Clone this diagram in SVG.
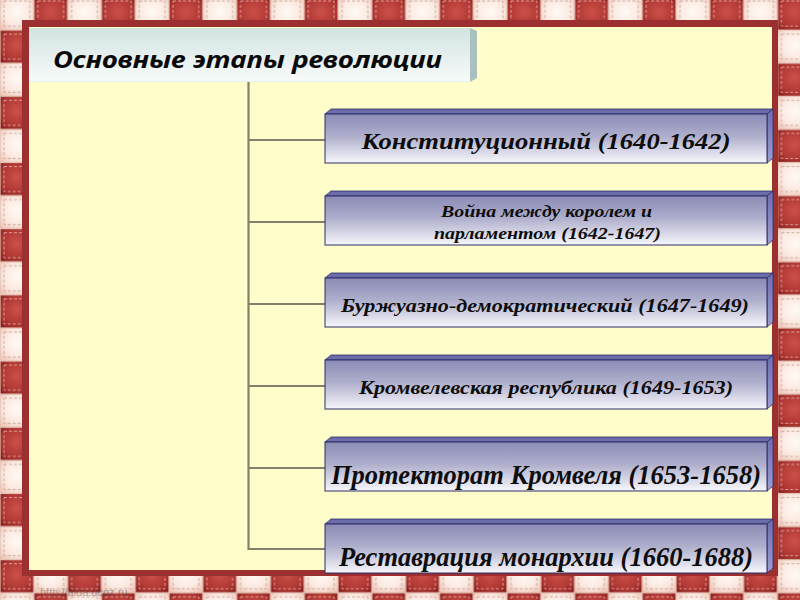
<svg xmlns="http://www.w3.org/2000/svg" width="800" height="600" viewBox="0 0 800 600">
  <defs>
    <radialGradient id="gRed" cx="0.5" cy="0.45" r="0.7">
      <stop offset="0" stop-color="#cc5049"/>
      <stop offset="0.6" stop-color="#b23a35"/>
      <stop offset="1" stop-color="#8a1f1e"/>
    </radialGradient>
    <radialGradient id="gCream" cx="0.5" cy="0.45" r="0.7">
      <stop offset="0" stop-color="#fffaf5"/>
      <stop offset="0.6" stop-color="#fbe9e0"/>
      <stop offset="1" stop-color="#eec4b5"/>
    </radialGradient>
    <pattern id="chk" patternUnits="userSpaceOnUse" x="0" y="-3" width="67.6" height="66.2">
      <rect x="0" y="0" width="67.6" height="66.2" fill="#e2bfb2"/>
      <rect x="0.6" y="0.6" width="32.6" height="31.9" fill="url(#gCream)"/>
      <rect x="34.4" y="0.6" width="32.6" height="31.9" fill="url(#gRed)"/>
      <rect x="0.6" y="33.7" width="32.6" height="31.9" fill="url(#gRed)"/>
      <rect x="34.4" y="33.7" width="32.6" height="31.9" fill="url(#gCream)"/>
      <rect x="4" y="4" width="25.8" height="25.1" class="stC"/>
      <rect x="37.8" y="4" width="25.8" height="25.1" class="stR"/>
      <rect x="4" y="37.1" width="25.8" height="25.1" class="stR"/>
      <rect x="37.8" y="37.1" width="25.8" height="25.1" class="stC"/>
    </pattern>
    <linearGradient id="gFront" x1="0" y1="0" x2="0" y2="1">
      <stop offset="0" stop-color="#8b8bb7"/>
      <stop offset="0.45" stop-color="#aeaecc"/>
      <stop offset="1" stop-color="#f7f7fc"/>
    </linearGradient>
    <linearGradient id="gSide" x1="0" y1="0" x2="0" y2="1">
      <stop offset="0" stop-color="#6d6db0"/>
      <stop offset="1" stop-color="#9d9dd2"/>
    </linearGradient>
    <linearGradient id="gTitle" x1="0" y1="0" x2="0" y2="1">
      <stop offset="0" stop-color="#d2e4e2"/>
      <stop offset="1" stop-color="#f8fbfa"/>
    </linearGradient>
  </defs>
  <style>
    .stR { fill: none; stroke: #eaa9a3; stroke-width: 0.9; stroke-dasharray: 3 2; }
    .stC { fill: none; stroke: #c9a59c; stroke-width: 0.9; stroke-dasharray: 3 2; }
    .front { fill: url(#gFront); stroke: #2c2c68; stroke-width: 1; }
    .top { fill: #6c6caa; stroke: #2c2c68; stroke-width: 0.8; }
    .side { fill: url(#gSide); stroke: #2c2c68; stroke-width: 0.8; }
    .lbl { font-family: "Liberation Serif", "Times New Roman", serif; font-weight: bold; font-style: italic; fill: #0d0d0d; text-anchor: middle; }
    .conn { stroke: #82806c; stroke-width: 2.2; fill: none; }
    .title { font-family: "Noto Sans", "DejaVu Sans", sans-serif; font-weight: bold; font-style: italic; fill: #0a0a0a; }
  </style>

  <g id="background">
    <rect x="0" y="0" width="800" height="600" fill="url(#chk)"/>
    <rect x="22" y="20" width="756" height="556" fill="#9c3030"/>
    <rect x="29" y="27" width="743" height="543" fill="#fffdca"/>
    <text x="40" y="596" font-family="Liberation Sans, Arial, sans-serif" font-size="11" fill="#4a4a4a" opacity="0.45">http://aida.ucoz.ru</text>
  </g>

  <g id="title">
    <rect x="29" y="28" width="441" height="54" fill="url(#gTitle)"/>
    <polygon points="470,28 477,31 477,78 470,82" fill="#a9c0bf"/>
    <line x1="29" y1="81.5" x2="470" y2="81.5" stroke="#e8f0ef" stroke-width="1"/>
    <text class="title" x="53" y="68" font-size="24" textLength="389" lengthAdjust="spacingAndGlyphs">Основные этапы революции</text>
  </g>

  <g id="connectors">
    <line class="conn" x1="248.5" y1="82" x2="248.5" y2="550"/>
    <line class="conn" x1="248" y1="140" x2="325" y2="140"/>
    <line class="conn" x1="248" y1="222" x2="325" y2="222"/>
    <line class="conn" x1="248" y1="304" x2="325" y2="304"/>
    <line class="conn" x1="248" y1="386" x2="325" y2="386"/>
    <line class="conn" x1="248" y1="468" x2="325" y2="468"/>
    <line class="conn" x1="248" y1="549" x2="325" y2="549"/>
  </g>

  <g id="stage1">
    <polygon class="top" points="325,114 331,109 773,109 767,114"/>
    <polygon class="side" points="767,114 773,109 773,158 767,163"/>
    <rect class="front" x="325" y="114" width="442" height="49"/>
    <text class="lbl" x="546" y="149" font-size="24" textLength="369" lengthAdjust="spacingAndGlyphs">Конституционный (1640-1642)</text>
  </g>

  <g id="stage2">
    <polygon class="top" points="325,196 331,191 773,191 767,196"/>
    <polygon class="side" points="767,196 773,191 773,240 767,245"/>
    <rect class="front" x="325" y="196" width="442" height="49"/>
    <text class="lbl" x="546.5" y="217" font-size="17" textLength="211" lengthAdjust="spacingAndGlyphs">Война между королем и</text>
    <text class="lbl" x="547.5" y="239" font-size="17" textLength="227" lengthAdjust="spacingAndGlyphs">парламентом (1642-1647)</text>
  </g>

  <g id="stage3">
    <polygon class="top" points="325,278 331,273 773,273 767,278"/>
    <polygon class="side" points="767,278 773,273 773,322 767,327"/>
    <rect class="front" x="325" y="278" width="442" height="49"/>
    <text class="lbl" x="545" y="312" font-size="19" textLength="408" lengthAdjust="spacingAndGlyphs">Буржуазно-демократический (1647-1649)</text>
  </g>

  <g id="stage4">
    <polygon class="top" points="325,360 331,355 773,355 767,360"/>
    <polygon class="side" points="767,360 773,355 773,404 767,409"/>
    <rect class="front" x="325" y="360" width="442" height="49"/>
    <text class="lbl" x="546" y="394" font-size="19" textLength="374" lengthAdjust="spacingAndGlyphs">Кромвелевская республика (1649-1653)</text>
  </g>

  <g id="stage5">
    <polygon class="top" points="325,442 331,437 773,437 767,442"/>
    <polygon class="side" points="767,442 773,437 773,486 767,491"/>
    <rect class="front" x="325" y="442" width="442" height="49"/>
    <text class="lbl" x="546" y="484" font-size="27" textLength="430" lengthAdjust="spacingAndGlyphs">Протекторат Кромвеля (1653-1658)</text>
  </g>

  <g id="stage6">
    <polygon class="top" points="325,524 331,519 773,519 767,524"/>
    <polygon class="side" points="767,524 773,519 773,568 767,573"/>
    <rect class="front" x="325" y="524" width="442" height="49"/>
    <text class="lbl" x="546" y="566" font-size="27" textLength="414" lengthAdjust="spacingAndGlyphs">Реставрация монархии (1660-1688)</text>
  </g>
</svg>
